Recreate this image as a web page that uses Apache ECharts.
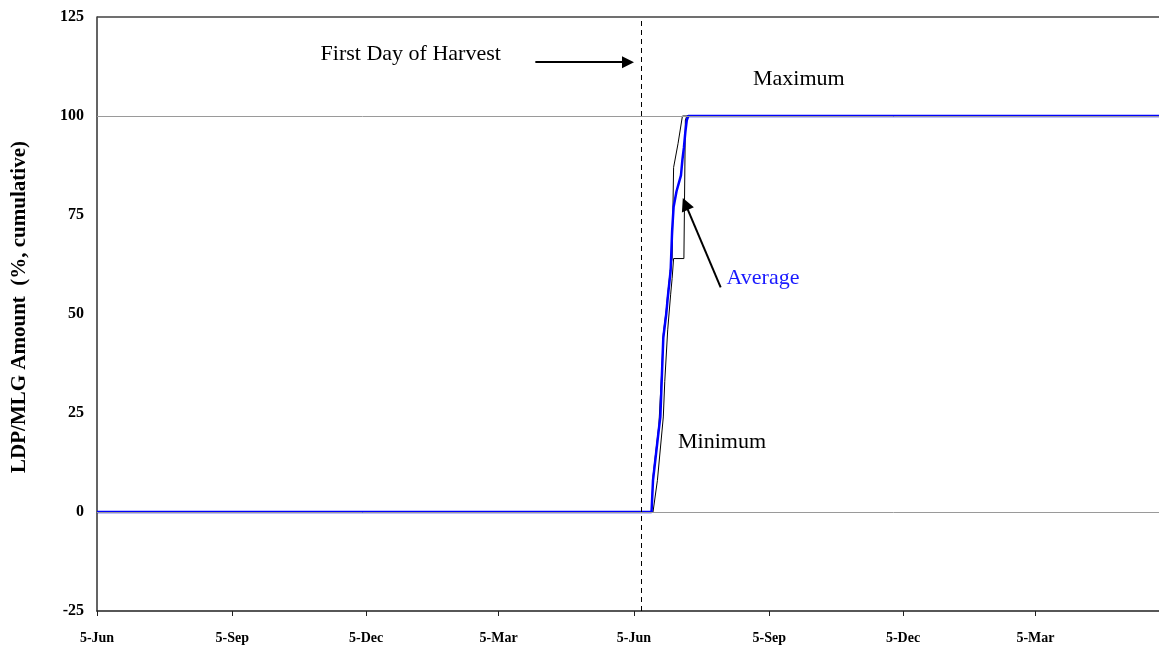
<!DOCTYPE html>
<html>
<head>
<meta charset="utf-8">
<title>LDP/MLG Amount</title>
<script src="https://cdn.jsdelivr.net/npm/echarts@6/dist/echarts.min.js"></script>
<style>
  html, body { margin: 0; padding: 0; background: #ffffff; }
  #chart { width: 1159px; height: 650px; }
</style>
</head>
<body>
<div id="chart"></div>
<script>
// axis ticks (5th of every third month)
const tickDates = ['2004-06-05', '2004-09-05', '2004-12-05', '2005-03-05',
                   '2005-06-05', '2005-09-05', '2005-12-05', '2006-03-05'];
const tickLabels = ['5-Jun', '5-Sep', '5-Dec', '5-Mar', '5-Jun', '5-Sep', '5-Dec', '5-Mar'];
const axisStart = '2004-06-05';
const axisEnd = '2006-05-28';
const gridValues = [0, 100];
const harvestDate = '2005-06-10';

// cumulative LDP/MLG amount, %
const avgDates = ['2004-06-05', '2005-06-17', '2005-06-18', '2005-06-22', '2005-06-23', '2005-06-24',
                  '2005-06-25', '2005-06-27', '2005-06-28', '2005-06-30', '2005-07-01', '2005-07-02',
                  '2005-07-04', '2005-07-07', '2005-07-08', '2005-07-09', '2005-07-10', '2005-07-11',
                  '2005-07-12', '2006-05-28'];
const avgValues = [0, 0, 8, 21, 24, 34, 44, 50, 54, 61, 71, 77, 81, 85, 89, 92, 96, 99, 100, 100];

const maxDates = ['2004-06-05', '2005-06-17', '2005-06-18', '2005-06-22', '2005-06-24', '2005-06-25',
                  '2005-06-27', '2005-06-28', '2005-06-30', '2005-07-01', '2005-07-02', '2005-07-05',
                  '2005-07-08', '2006-05-28'];
const maxValues = [0, 0, 9, 22, 36, 45, 51, 55, 62, 64, 87, 93, 100, 100];

const minDates = ['2004-06-05', '2005-06-18', '2005-06-21', '2005-06-25', '2005-06-26', '2005-06-28',
                  '2005-06-30', '2005-07-01', '2005-07-02', '2005-07-09', '2005-07-10', '2005-07-11',
                  '2006-05-28'];
const minValues = [0, 0, 8, 24, 33, 46, 55, 59, 64, 64, 99, 100, 100];

const t = s => echarts.time.parse(s).getTime();
const tickTimes = tickDates.map(t);
const pairs = (dates, values) => dates.map((d, i) => [t(d), values[i]]);

const serif = '"Liberation Serif", "Times New Roman", serif';
const yMin = -25, yMax = 125;

const chart = echarts.init(document.getElementById('chart'));

chart.setOption({
  animation: false,
  backgroundColor: '#ffffff',
  grid: { left: 97, top: 17, bottom: 39, right: 0 },
  xAxis: {
    // dates kept as timestamps on a plain value scale so ticks can sit on the 5th
    type: 'value',
    min: t(axisStart),
    max: t(axisEnd),
    axisLine: { onZero: false, lineStyle: { color: '#202020', width: 1.5 } },
    axisTick: { show: true, length: 5, customValues: tickTimes, lineStyle: { color: '#202020' } },
    axisLabel: {
      customValues: tickTimes,
      margin: 20,
      fontFamily: serif, fontWeight: 'bold', fontSize: 14, color: '#000',
      formatter: v => {
        const i = tickTimes.indexOf(v);
        return i >= 0 ? tickLabels[i] : '';
      }
    },
    splitLine: { show: false }
  },
  yAxis: {
    type: 'value',
    min: yMin, max: yMax, interval: 25,
    name: 'LDP/MLG Amount  (%, cumulative)',
    nameLocation: 'middle',
    nameGap: 67,
    nameTextStyle: {
      fontFamily: serif, fontWeight: 'bold', fontSize: 21, color: '#000',
      padding: [0, 0, 0, 14]
    },
    axisLine: { show: true, lineStyle: { color: '#303030', width: 1.5 } },
    axisTick: { show: false },
    axisLabel: { margin: 13, fontFamily: serif, fontWeight: 'bold', fontSize: 16, color: '#000' },
    splitLine: { show: false }
  },
  series: [
    {
      name: 'gridlines',
      type: 'line',
      data: [],
      z: 1,
      markLine: {
        silent: true,
        symbol: 'none',
        label: { show: false },
        lineStyle: { color: '#9a9a9a', width: 1, type: 'solid' },
        data: gridValues.map(v => ({ yAxis: v }))
          // top frame edge of the plot
          .concat([{ yAxis: yMax, lineStyle: { color: '#404040', width: 1.5 } }])
      }
    },
    {
      name: 'Maximum',
      type: 'line',
      data: pairs(maxDates, maxValues),
      showSymbol: false,
      lineStyle: { color: '#000000', width: 1 },
      z: 3
    },
    {
      name: 'Minimum',
      type: 'line',
      data: pairs(minDates, minValues),
      showSymbol: false,
      lineStyle: { color: '#000000', width: 1 },
      z: 3
    },
    {
      name: 'Average',
      type: 'line',
      data: pairs(avgDates, avgValues),
      showSymbol: false,
      lineStyle: { color: '#0000ff', width: 2.5 },
      z: 4
    },
    {
      name: 'notes',
      type: 'line',
      data: [],
      z: 5,
      markLine: {
        silent: true,
        symbol: 'none',
        label: { show: false },
        lineStyle: { color: '#000000', width: 2, type: 'solid' },
        data: [
          { xAxis: t(harvestDate), lineStyle: { type: [5, 4], width: 1 } },
          [
            { coord: [t('2005-03-30'), 113.6], symbol: 'none' },
            { coord: [t('2005-06-01'), 113.6], symbol: 'triangle', symbolSize: 12 }
          ],
          [
            { coord: [t('2005-08-03'), 56.7], symbol: 'none' },
            { coord: [t('2005-07-10'), 77.8], symbol: 'triangle', symbolSize: 13 }
          ]
        ]
      },
      markPoint: {
        silent: true,
        symbol: 'circle',
        symbolSize: 0,
        label: {
          show: true, position: 'right', distance: 0,
          fontFamily: serif, fontSize: 22, color: '#000'
        },
        data: [
          { coord: [t('2004-11-04'), 115.7], label: { formatter: 'First Day of Harvest' } },
          { coord: [t('2005-08-25'), 109.3], label: { formatter: 'Maximum' } },
          { coord: [t('2005-08-07'), 59.1], label: { formatter: 'Average', color: '#1a1aff' } },
          { coord: [t('2005-07-05'), 17.7], label: { formatter: 'Minimum' } }
        ]
      }
    }
  ]
});

window.addEventListener('resize', () => chart.resize());
</script>
</body>
</html>
